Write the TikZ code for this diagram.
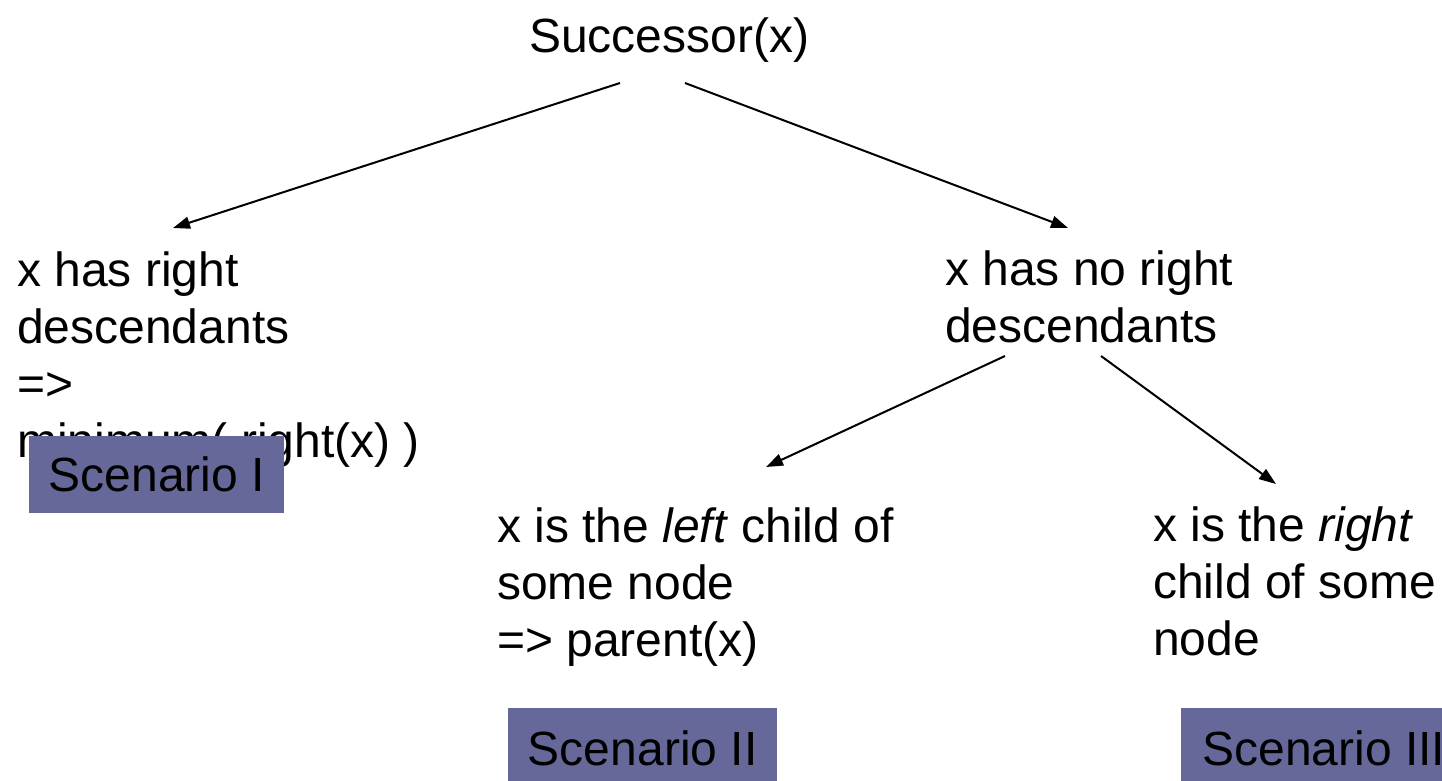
\documentclass[tikz,border=0pt]{standalone}
\usepackage{fontspec}
\setmainfont{Liberation Sans}
\usetikzlibrary{arrows.meta}
\definecolor{scenfill}{RGB}{102,104,153}
\begin{document}
\begin{tikzpicture}[x=1pt,y=-1pt,
  every node/.style={font=\fontsize{48}{57}\selectfont, inner sep=0pt},
  txt/.style={anchor=base west, align=left},
  scen/.style={anchor=north west, fill=scenfill, inner sep=0pt},
  arr/.style={-{Triangle[length=17pt,width=12pt]}, line width=2pt}]
\clip (0,0) rectangle (1442,781);

% question at the top
\node[txt] (root) at (529,53) {Successor(x)};

% first split (anchored at the baseline of the last line)
\node[txt] (has) at (17,457) {x has right\\descendants\\=>\\minimum( right(x) )};
\node[txt] (hasnot) at (945,342) {x has no right\\descendants};

% second split
\node[txt] (leftch) at (497,656) {x is the \textit{left} child of\\some node\\=> parent(x)};
\node[txt] (rightch) at (1153,655) {x is the \textit{right}\\child of some\\node};

% scenario tags
\node[scen, minimum width=255pt, minimum height=77pt] (s1) at (29,436) {Scenario I};
\node[scen, minimum width=269pt, minimum height=80pt] (s2) at (508,708) {Scenario II};
\node[scen, minimum width=285pt, minimum height=80pt] (s3) at (1181,708) {Scenario III};

% arrow ends
\coordinate (rootL) at (620,83);
\coordinate (rootR) at (685,83);
\coordinate (hasTop) at (173,228);
\coordinate (hasnotTop) at (1068,228);
\coordinate (hasnotL) at (1005,356);
\coordinate (hasnotR) at (1101,356);
\coordinate (leftchTop) at (766,467);
\coordinate (rightchTop) at (1276,484);

\draw[arr] (rootL) -- (hasTop);
\draw[arr] (rootR) -- (hasnotTop);
\draw[arr] (hasnotL) -- (leftchTop);
\draw[arr] (hasnotR) -- (rightchTop);
\end{tikzpicture}
\end{document}
